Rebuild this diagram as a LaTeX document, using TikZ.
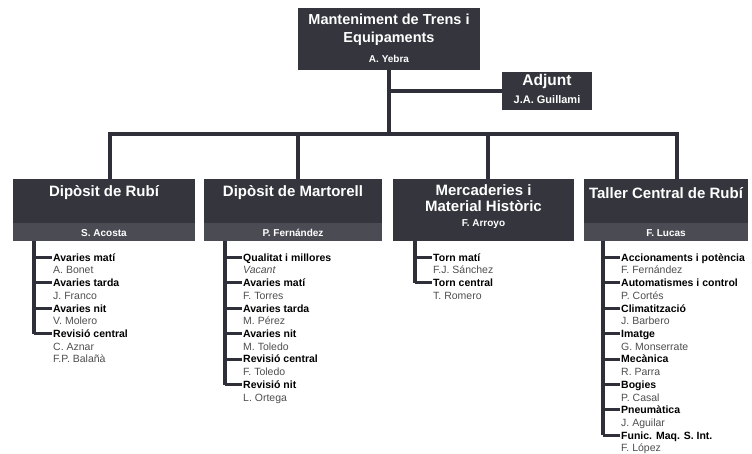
\documentclass[tikz,border=0pt]{standalone}
\usepackage{fontspec}
\setmainfont{Liberation Sans}
\usetikzlibrary{calc}

\definecolor{boxfill}{HTML}{35353D}
\definecolor{bandfill}{HTML}{4B4B53}
\definecolor{linecol}{HTML}{2F2F39}
\definecolor{namegray}{HTML}{4E4E4E}

\tikzset{
    unitbox/.style={fill=boxfill, draw=none, inner sep=0pt},
    boxtitle/.style={text=white, font=\bfseries\fontsize{15}{16}\selectfont, align=center, inner sep=0pt},
    boxname/.style={text=white, font=\bfseries\fontsize{10}{12}\selectfont, inner sep=0pt, text height=7pt, text depth=0pt},
    conn/.style={draw=linecol, line width=4pt},
    stem/.style={draw=linecol, line width=3.5pt},
    tick/.style={draw=linecol, line width=3pt},
    h item/.style={anchor=west, inner xsep=1.5pt, inner ysep=0pt, text height=7.6pt, text depth=0pt,
        font=\bfseries\fontsize{10.5}{12}\selectfont},
    p item/.style={anchor=west, inner xsep=1.5pt, inner ysep=0pt, text height=7.6pt, text depth=0pt,
        text=namegray, font=\fontsize{10.5}{12}\selectfont},
    v item/.style={p item, font=\itshape\fontsize{10.5}{12}\selectfont}
}

\begin{document}
\begin{tikzpicture}[x=1pt, y=-1pt]
    \useasboundingbox (0,0) rectangle (752,454);

    % Head
    \node[unitbox, minimum width=182, minimum height=62] (top) at (389,39) {};
    \node[boxtitle, font=\bfseries\fontsize{14.5}{18}\selectfont] (toptitle) at (389,30) {Manteniment de Trens i\\Equipaments};
    \node[boxname] (topname) at (389,59.5) {A. Yebra};

    \node[unitbox, minimum width=90, minimum height=38] (adjunt) at (547,91) {};
    \node[boxtitle, font=\bfseries\fontsize{15.5}{17}\selectfont] (adjunttitle) at (547,81.5) {Adjunt};
    \node[boxname, font=\bfseries\fontsize{11}{13}\selectfont] (adjuntname) at (547,100) {J.A. Guillami};

    % Units
    \node[unitbox, minimum width=182, minimum height=62] (rubi) at (104,210) {};
    \node[unitbox, minimum width=178, minimum height=62] (martorell) at (293,210) {};
    \node[unitbox, minimum width=181, minimum height=62] (mercaderies) at (483.5,210) {};
    \node[unitbox, minimum width=164, minimum height=62] (taller) at (666,210) {};

    \fill[bandfill] (rubi.south west) rectangle ([yshift=18pt]rubi.south east);
    \fill[bandfill] (martorell.south west) rectangle ([yshift=18pt]martorell.south east);
    \fill[bandfill] (taller.south west) rectangle ([yshift=18pt]taller.south east);

    \node[boxtitle] (rubititle) at (104,193) {Dipòsit de Rubí};
    \node[boxname] (rubiname) at (104,233.5) {S. Acosta};
    \node[boxtitle] (martorelltitle) at (293,193) {Dipòsit de Martorell};
    \node[boxname] (martorellname) at (293,233.5) {P. Fernández};
    \node[boxtitle] (mercaderiestitle) at (483.5,198) {Mercaderies i\\Material Històric};
    \node[boxname] (mercaderiesname) at (483.5,223.5) {F. Arroyo};
    \node[boxtitle] (tallertitle) at (666,193) {Taller Central de Rubí};
    \node[boxname] (tallername) at (666,233.5) {F. Lucas};

    % Connectors
    \coordinate (j1) at (110,134);
    \coordinate (j2) at (298,134);
    \coordinate (j3) at (488,134);
    \coordinate (j4) at (677,134);
    \coordinate (topbus) at (top.south |- j1);
    \draw[conn] (top.south) -- (topbus);
    \draw[conn] (top.south |- adjunt.west) -- (adjunt.west);
    \draw[conn] (j1 |- rubi.north) -- (j1) -- (j4) -- (j4 |- taller.north);
    \draw[conn] (j2) -- (j2 |- martorell.north);
    \draw[conn] (j3) -- (j3 |- mercaderies.north);

    % Lists
    \foreach \t/\s [count=\i from 0] in {h/Avaries matí, p/A. Bonet, h/Avaries tarda, p/J. Franco,
        h/Avaries nit, p/V. Molero, h/Revisió central, p/C. Aznar, p/F.P. Balañà}
        \node[\t\space item] (rubi\i) at (51.5, 257.5+12.7*\i) {\s};

    \foreach \t/\s [count=\i from 0] in {h/Qualitat i millores, v/Vacant, h/Avaries matí, p/F. Torres,
        h/Avaries tarda, p/M. Pérez, h/Avaries nit, p/M. Toledo, h/Revisió central, p/F. Toledo,
        h/Revisió nit, p/L. Ortega}
        \node[\t\space item] (martorell\i) at (241.5, 257.5+12.7*\i) {\s};

    \foreach \t/\s [count=\i from 0] in {h/Torn matí, p/F.J. Sánchez, h/Torn central, p/T. Romero}
        \node[\t\space item] (mercaderies\i) at (431.5, 257.5+12.7*\i) {\s};

    \foreach \t/\s [count=\i from 0] in {h/Accionaments i potència, p/F. Fernández,
        h/Automatismes i control, p/P. Cortés, h/Climatització, p/J. Barbero, h/Imatge,
        p/G. Monserrate, h/Mecànica, p/R. Parra, h/Bogies, p/P. Casal, h/Pneumàtica,
        p/J. Aguilar, h/Funic. Maq. S. Int., p/F. López}
        \node[\t\space item] (taller\i) at (619.5, 257.5+12.7*\i) {\s};

    % Stems
    \coordinate (rubistem) at (rubi.south -| 34,0);
    \coordinate (martorellstem) at (martorell.south -| 225,0);
    \coordinate (mercaderiesstem) at (mercaderies.south -| 415,0);
    \coordinate (tallerstem) at (taller.south -| 603,0);

    \draw[stem] (rubistem) -- (rubistem |- rubi6.west);
    \draw[stem] (martorellstem) -- (martorellstem |- martorell10.west);
    \draw[stem] (mercaderiesstem) -- (mercaderiesstem |- mercaderies2.west);
    \draw[stem] (tallerstem) -- (tallerstem |- taller14.west);

    \foreach \i in {0,2,4,6}
        \draw[tick] (rubistem |- rubi\i.west) -- (rubi\i.west);
    \foreach \i in {0,2,4,6,8,10}
        \draw[tick] (martorellstem |- martorell\i.west) -- (martorell\i.west);
    \foreach \i in {0,2}
        \draw[tick] (mercaderiesstem |- mercaderies\i.west) -- (mercaderies\i.west);
    \foreach \i in {0,2,4,6,8,10,12,14}
        \draw[tick] (tallerstem |- taller\i.west) -- (taller\i.west);
\end{tikzpicture}
\end{document}
